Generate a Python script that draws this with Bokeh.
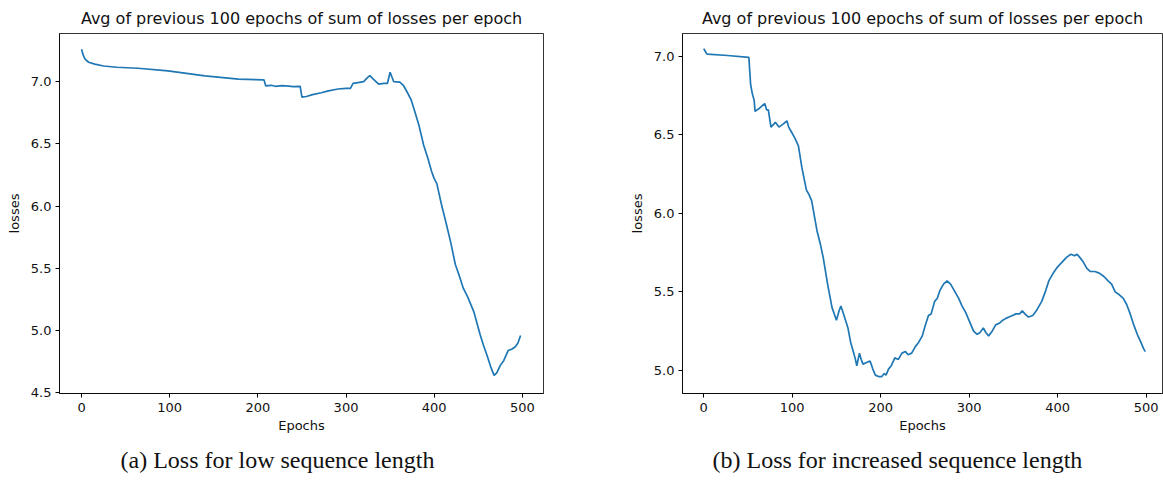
from bokeh.plotting import figure
from bokeh.layouts import row
from bokeh.models import FixedTicker, Title, PrintfTickFormatter, Range1d
from bokeh.embed import file_html
from bokeh.resources import INLINE

title_text = "Avg of previous 100 epochs of sum of losses per epoch"
caption_a = "(a) Loss for low sequence length"
caption_b = "(b) Loss for increased sequence length"
x_label = "Epochs"
y_label = "losses"
x_ticks = [0, 100, 200, 300, 400, 500]
y_ticks_a = [4.5, 5.0, 5.5, 6.0, 6.5, 7.0]
y_ticks_b = [5.0, 5.5, 6.0, 6.5, 7.0]

epochs_a = [0, 2, 4, 8, 15, 25, 40, 64, 98, 140, 178, 207, 209, 215, 220, 227, 235, 240, 248,
            250, 255, 262, 272, 280, 291, 300, 305, 308, 312, 320, 324, 327, 331, 337, 343, 347,
            350, 354, 361, 365, 369, 374, 378, 383, 388, 393, 397, 400, 403, 408, 414, 419, 424,
            428, 433, 438, 445, 452, 456, 460, 464, 468, 471, 475, 479, 484, 488, 492, 495, 498]
loss_a = [7.26, 7.21, 7.18, 7.155, 7.14, 7.125, 7.115, 7.107, 7.086, 7.046, 7.02, 7.013, 6.965,
          6.97, 6.962, 6.967, 6.963, 6.96, 6.962, 6.875, 6.88, 6.895, 6.91, 6.925, 6.94, 6.945,
          6.945, 6.985, 6.99, 7.0, 7.03, 7.048, 7.02, 6.98, 6.985, 6.986, 7.075, 7.0, 6.995, 6.97,
          6.92, 6.85, 6.76, 6.64, 6.49, 6.38, 6.28, 6.22, 6.18, 6.02, 5.85, 5.70, 5.53, 5.45, 5.34,
          5.27, 5.15, 4.97, 4.88, 4.80, 4.71, 4.64, 4.66, 4.72, 4.76, 4.84, 4.85, 4.87, 4.90, 4.96]

epochs_b = [0, 3, 4, 27, 51, 53, 55, 57, 58, 63, 69, 71, 73, 76, 81, 85, 90, 94, 96, 99, 103, 107,
            111, 116, 119, 122, 128, 132, 135, 140, 145, 150, 153, 155, 158, 163, 166, 169, 171,
            173, 176, 178, 180, 184, 188, 191, 194, 198, 201, 204, 206, 209, 212, 216, 220, 224,
            228, 231, 235, 239, 243, 247, 250, 254, 257, 261, 264, 267, 271, 275, 279, 284, 288,
            292, 296, 299, 302, 305, 309, 312, 316, 319, 322, 326, 330, 334, 338, 341, 345, 349,
            353, 357, 360, 363, 367, 372, 377, 382, 386, 390, 395, 400, 405, 410, 415, 419, 422,
            425, 429, 433, 437, 442, 447, 452, 457, 461, 465, 470, 474, 478, 482, 486, 490, 494,
            497, 499]
loss_b = [7.05, 7.02, 7.015, 7.006, 6.994, 6.82, 6.76, 6.72, 6.65, 6.67, 6.70, 6.66, 6.66, 6.55,
          6.58, 6.55, 6.57, 6.59, 6.55, 6.52, 6.48, 6.43, 6.29, 6.15, 6.12, 6.08, 5.89, 5.80, 5.72,
          5.55, 5.40, 5.32, 5.38, 5.41, 5.36, 5.27, 5.18, 5.12, 5.08, 5.03, 5.11, 5.07, 5.04, 5.05,
          5.06, 5.01, 4.97, 4.96, 4.96, 4.98, 4.97, 5.01, 5.03, 5.08, 5.07, 5.11, 5.12, 5.10, 5.11,
          5.15, 5.18, 5.22, 5.28, 5.35, 5.36, 5.44, 5.46, 5.51, 5.55, 5.57, 5.55, 5.50, 5.46, 5.41,
          5.37, 5.33, 5.29, 5.25, 5.23, 5.24, 5.27, 5.24, 5.22, 5.25, 5.29, 5.30, 5.32, 5.33, 5.34,
          5.35, 5.36, 5.36, 5.38, 5.36, 5.34, 5.35, 5.39, 5.44, 5.50, 5.57, 5.62, 5.66, 5.69, 5.72,
          5.74, 5.73, 5.74, 5.72, 5.69, 5.65, 5.63, 5.63, 5.62, 5.60, 5.57, 5.55, 5.50, 5.48, 5.46,
          5.42, 5.36, 5.29, 5.23, 5.18, 5.14, 5.12]

LINE_COLOR = "#1f77b4"
SANS = "DejaVu Sans"
SERIF = "Liberation Serif"


def make_panel(xs, ys, yticks, xrange, yrange, caption, width, bl, br, cap_offset):
    p = figure(width=width, height=482, output_backend="svg", toolbar_location=None,
               x_range=Range1d(*xrange), y_range=Range1d(*yrange),
               min_border_left=bl, min_border_right=br, min_border_top=32,
               min_border_bottom=89)
    p.title.text = title_text
    p.title.align = "center"
    p.title.text_font = SANS
    p.title.text_font_size = "16px"
    p.title.text_font_style = "normal"
    p.title.text_color = "#111111"
    p.title.standoff = 12
    p.line(xs, ys, line_color=LINE_COLOR, line_width=1.7)
    p.xgrid.visible = False
    p.ygrid.visible = False
    p.outline_line_color = "black"
    p.outline_line_width = 0.8
    p.background_fill_color = "white"
    p.border_fill_color = "white"
    for ax in (p.xaxis[0], p.yaxis[0]):
        ax.axis_line_color = "black"
        ax.axis_line_width = 0.8
        ax.major_tick_line_color = "black"
        ax.major_tick_out = 4
        ax.major_tick_in = 0
        ax.minor_tick_line_color = None
        ax.major_label_text_font = SANS
        ax.major_label_text_font_size = "13px"
        ax.major_label_text_color = "#111111"
        ax.axis_label_text_font = SANS
        ax.axis_label_text_font_size = "13px"
        ax.axis_label_text_font_style = "normal"
        ax.axis_label_text_color = "#111111"
    p.xaxis.ticker = FixedTicker(ticks=x_ticks)
    p.yaxis.ticker = FixedTicker(ticks=yticks)
    p.yaxis.formatter = PrintfTickFormatter(format="%.1f")
    p.xaxis.axis_label = x_label
    p.yaxis.axis_label = y_label
    p.xaxis.major_label_standoff = 5
    p.xaxis.axis_label_standoff = 3
    p.yaxis.major_label_standoff = 4
    p.yaxis.axis_label_standoff = 6
    cap = Title(text=caption, align="left", offset=cap_offset, text_font=SERIF,
                text_font_size="24px", text_font_style="normal", text_color="#111111",
                standoff=19)
    p.add_layout(cap, "below")
    return p


p1 = make_panel(epochs_a, loss_a, y_ticks_a, (-25, 524), (4.494, 7.386), caption_a,
                600, 59, 57, 61)
p2 = make_panel(epochs_b, loss_b, y_ticks_b, (-24, 518.5), (4.853, 7.146), caption_b,
                563, 82, 1, 30)

layout = row(p1, p2)
open("out.html", "w").write(file_html(layout, INLINE))
